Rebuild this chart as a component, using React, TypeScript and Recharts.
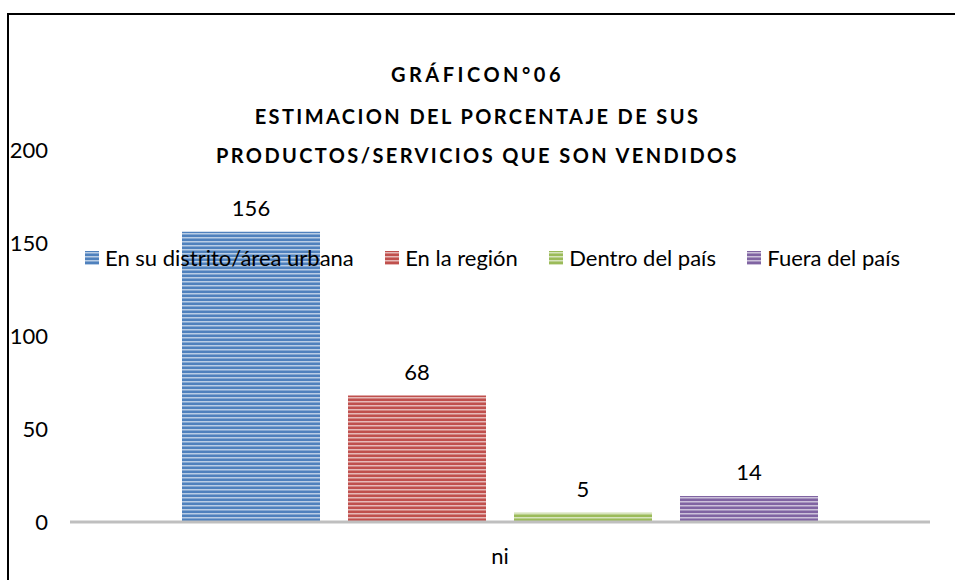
import { BarChart, Bar, XAxis, YAxis, LabelList } from "recharts";

const categories = ["ni"];
const seriesNames = [
  "En su distrito/área urbana",
  "En la región",
  "Dentro del país",
  "Fuera del país",
];
const seriesValues = [156, 68, 5, 14];
const yTicks = [0, 50, 100, 150, 200];
const titleLines = [
  "GRÁFICON°06",
  "ESTIMACION DEL PORCENTAJE DE SUS",
  "PRODUCTOS/SERVICIOS QUE SON VENDIDOS",
];

const colors = [
  { base: "#4f81bd", light: "#b9cde5" },
  { base: "#c0504d", light: "#e6b9b8" },
  { base: "#9bbb59", light: "#d7e4bd" },
  { base: "#8064a2", light: "#ccc1da" },
];

const keys = seriesNames.map((_, i) => `s${i}`);
const data = categories.map((name) => {
  const row: Record<string, string | number> = { name };
  keys.forEach((k, i) => (row[k] = seriesValues[i]));
  return row;
});

const FONT = "Lato, 'Open Sans', sans-serif";
const TXT = 22;

function StripeSwatch({ i }: { i: number }) {
  return (
    <svg width={14} height={14} style={{ display: "block" }}>
      <rect width={14} height={14} fill={colors[i].base} />
      {[1, 5, 9, 13].map((y) => (
        <rect key={y} x={0} y={y} width={14} height={1.5} fill={colors[i].light} />
      ))}
    </svg>
  );
}

// legend drawn as plain html so it doesn't eat into the plot area
function LegendBox() {
  return (
    <div
      style={{
        position: "absolute",
        top: 244,
        left: 85,
        width: 815,
        display: "flex",
        justifyContent: "space-between",
        alignItems: "center",
        fontFamily: FONT,
        fontSize: TXT,
        color: "#000",
      }}
    >
      {seriesNames.map((n, i) => (
        <div key={n} style={{ display: "flex", alignItems: "center" }}>
          <StripeSwatch i={i} />
          <span style={{ marginLeft: 6, whiteSpace: "nowrap" }}>{n}</span>
        </div>
      ))}
    </div>
  );
}

export default function App() {
  return (
    <div style={{ position: "absolute", left: 0, top: 0, width: 955, height: 580, overflow: "hidden", background: "#fff" }}>
      <div
        style={{
          position: "absolute",
          left: 7,
          top: 13,
          width: 980,
          height: 600,
          borderLeft: "2px solid #000",
          borderTop: "2px solid #000",
        }}
      />
      {titleLines.map((t, i) => (
        <div
          key={t}
          style={{
            position: "absolute",
            left: 0,
            width: 955,
            top: [62, 104, 143][i],
            textAlign: "center",
            fontFamily: FONT,
            fontWeight: 700,
            fontSize: 20,
            letterSpacing: i === 0 ? 3.5 : 2.4,
            color: "#000",
            lineHeight: "24px",
          }}
        >
          {t}
        </div>
      ))}
      <div style={{ position: "absolute", left: 0, top: 0 }}>
        <BarChart
          width={955}
          height={580}
          data={data}
          margin={{ top: 150, right: 25, left: 8, bottom: 0 }}
          barSize={138}
          barGap={28}
          style={{ fontFamily: FONT }}
        >
          <defs>
            {colors.map((c, i) => (
              <pattern key={i} id={`stripe${i}`} width={8} height={4} patternUnits="userSpaceOnUse">
                <rect width={8} height={4} fill={c.base} />
                <rect y={1} width={8} height={1.5} fill={c.light} />
              </pattern>
            ))}
          </defs>
          <XAxis
            dataKey="name"
            height={58}
            tickLine={false}
            tickSize={0}
            tickMargin={26}
            axisLine={{ stroke: "#bfbfbf", strokeWidth: 3 }}
            tick={{ fill: "#000", fontSize: TXT }}
          />
          <YAxis
            width={62}
            domain={[0, 200]}
            ticks={yTicks}
            axisLine={false}
            tickLine={false}
            tickSize={0}
            tickMargin={22}
            tick={{ fill: "#000", fontSize: TXT }}
          />
          {keys.map((k, i) => (
            <Bar key={k} dataKey={k} name={seriesNames[i]} fill={`url(#stripe${i})`} isAnimationActive={false}>
              <LabelList dataKey={k} position="top" offset={16} fill="#000" fontSize={TXT} />
            </Bar>
          ))}
        </BarChart>
      </div>
      <LegendBox />
    </div>
  );
}
